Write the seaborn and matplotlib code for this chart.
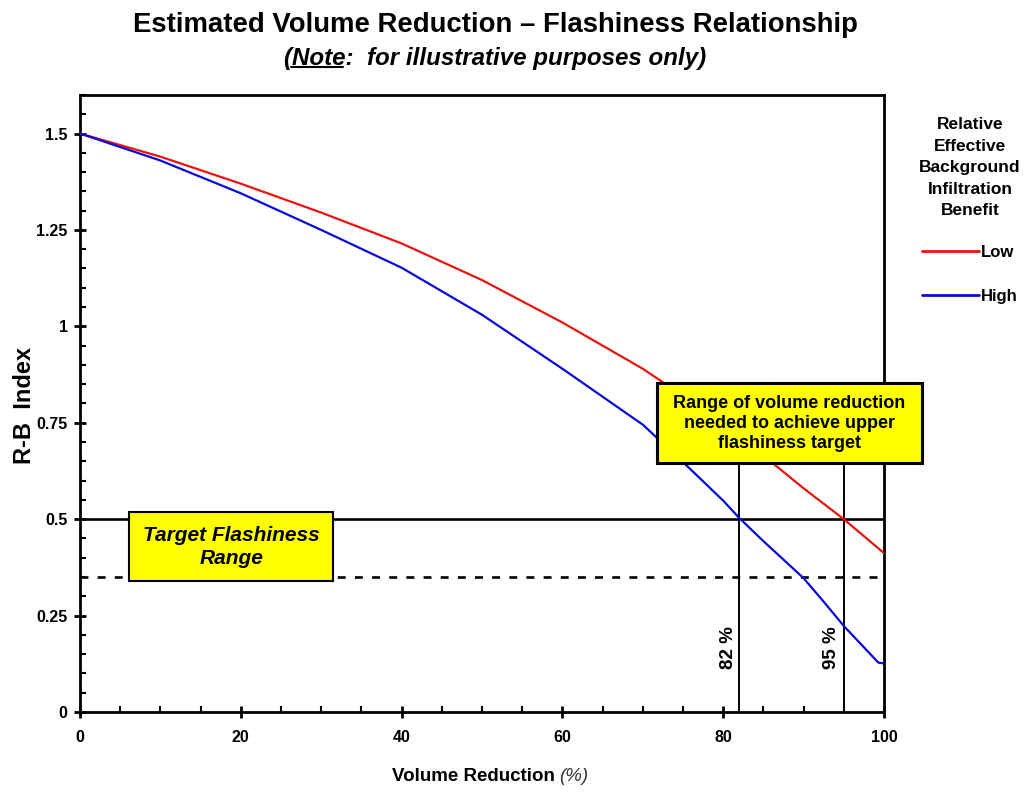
import matplotlib
matplotlib.use("Agg")
import matplotlib.pyplot as plt
from matplotlib.patches import Rectangle
from matplotlib.ticker import MultipleLocator, FuncFormatter
import pandas as pd
import seaborn as sns

# curve readings (volume reduction %, R-B index)
low_x = [0, 10, 20, 30, 40, 50, 60, 70, 75, 80, 85, 90, 95, 100]
low_y = [1.5, 1.44, 1.37, 1.295, 1.215, 1.12, 1.01, 0.89, 0.82, 0.75, 0.665, 0.58, 0.5, 0.412]
high_x = [0, 10, 20, 30, 40, 50, 60, 70, 75, 80, 82, 85, 90, 92.5, 95, 99.3, 100]
high_y = [1.5, 1.43, 1.345, 1.25, 1.152, 1.03, 0.89, 0.745, 0.648, 0.548, 0.503, 0.443, 0.347, 0.286, 0.223, 0.128, 0.126]
series_names = ["Low", "High"]
series_colors = ["#e8140f", "#0a0ad8"]

target_upper = 0.5
target_lower = 0.35
needed_pct = [82, 95]

df = pd.concat([
    pd.DataFrame({"x": low_x, "y": low_y, "benefit": "Low"}),
    pd.DataFrame({"x": high_x, "y": high_y, "benefit": "High"}),
])

sns.set_style("ticks")
plt.rcParams["font.family"] = ["Liberation Sans", "DejaVu Sans"]
for k in ["text.color", "axes.labelcolor", "xtick.color", "ytick.color", "axes.edgecolor"]:
    plt.rcParams[k] = "black"

fig = plt.figure(figsize=(10.26, 7.94), dpi=100)
ax = fig.add_axes([0.078, 0.1033, 0.7836, 0.7771])

sns.lineplot(data=df, x="x", y="y", hue="benefit", hue_order=series_names,
             palette=series_colors, linewidth=1.6, ax=ax, sort=False, zorder=3)

# target lines
ax.plot([0, 100], [target_upper, target_upper], color="black", lw=1.9, zorder=2)
ax.plot([0, 100], [target_lower, target_lower], color="black", lw=1.9,
        dashes=(3, 3.5), zorder=2)
for p in needed_pct:
    ax.plot([p, p], [0, 0.75], color="black", lw=1.4, zorder=2)

ax.set_xlim(0, 100)
ax.set_ylim(0, 1.6)
ax.xaxis.set_major_locator(MultipleLocator(20))
ax.xaxis.set_minor_locator(MultipleLocator(5))
ax.yaxis.set_major_locator(MultipleLocator(0.25))
ax.yaxis.set_minor_locator(MultipleLocator(0.05))
ax.yaxis.set_major_formatter(FuncFormatter(lambda v, _: f"{v:g}"))
ax.tick_params(which="major", direction="inout", length=8, width=2)
ax.tick_params(axis="x", which="major", pad=9)
ax.tick_params(axis="y", which="major", pad=5)
ax.tick_params(which="minor", direction="in", length=4, width=1.5)
for s in ax.spines.values():
    s.set_linewidth(2)
for lbl in ax.get_xticklabels() + ax.get_yticklabels():
    lbl.set_fontweight("bold")
    lbl.set_fontsize(11.5)

ax.set_xlabel("")
ax.set_ylabel("")
fig.text(25 / 1026, 1 - 405 / 794, "R-B  Index", rotation=90, ha="center", va="center",
         fontsize=17, fontweight="bold")

# annotation boxes
ax.add_patch(Rectangle((71.77, 0.646), 32.9, 0.208, facecolor="#ffff00",
                       edgecolor="black", lw=2.2, clip_on=False, zorder=5))
ax.text(88.2, 0.748, "Range of volume reduction\nneeded to achieve upper\nflashiness target",
        ha="center", va="center", fontsize=13, fontweight="bold",
        linespacing=1.22, zorder=6, clip_on=False)
ax.add_patch(Rectangle((6.1, 0.34), 25.4, 0.179, facecolor="#ffff00",
                       edgecolor="black", lw=1.5, zorder=5))
ax.text(18.8, 0.428, "Target Flashiness\nRange", ha="center", va="center",
        fontsize=15, fontweight="bold", style="italic", linespacing=1.3, zorder=6)
for p, tx in zip(needed_pct, [80.6, 93.5]):
    ax.text(tx, 0.166, f"{p} %", rotation=90, ha="center", va="center",
            fontsize=13.5, fontweight="bold")

# legend
leg = ax.legend(title="Relative\nEffective\nBackground\nInfiltration\nBenefit",
                loc="upper center", bbox_to_anchor=(970 / 1026, 1 - 117 / 794),
                bbox_transform=fig.transFigure, frameon=False,
                handlelength=3.4, handletextpad=0.15, labelspacing=1.75,
                fontsize=12, borderaxespad=0, borderpad=0)
title = leg.get_title()
title.set_fontweight("bold")
title.set_fontsize(12.5)
title.set_multialignment("center")
title.set_linespacing(1.55)
leg._legend_box.align = "center"
leg._legend_box.sep = 19
for t in leg.get_texts():
    t.set_fontweight("bold")
for h in leg.legend_handles:
    h.set_linewidth(2)

# titles
fig.text(0.4825, 0.969, "Estimated Volume Reduction \u2013 Flashiness Relationship",
         ha="center", va="center", fontsize=19.8, fontweight="bold")
sub_size = 17.4
sub = fig.text(0.4825, 0.926, "(Note:  for illustrative purposes only)",
               ha="center", va="center", fontsize=sub_size, fontweight="bold", style="italic")

# x label: bold part + italic (%)
fig.text(0.541, 0.022, "Volume Reduction", ha="right", va="center",
         fontsize=13.5, fontweight="bold")
fig.text(0.545, 0.022, "(%)", ha="left", va="center",
         fontsize=13.5, style="italic", color="#333333")

# underline "Note"
fig.canvas.draw()
r = fig.canvas.get_renderer()
bb = sub.get_window_extent(r)
pre = fig.text(0, 0, "(", fontsize=sub_size, fontweight="bold", style="italic")
pre2 = fig.text(0, 0, "(Note", fontsize=sub_size, fontweight="bold", style="italic")
w1 = pre.get_window_extent(r).width
w2 = pre2.get_window_extent(r).width
pre.remove()
pre2.remove()
W, H = fig.bbox.width, fig.bbox.height
yline = (bb.y0 + 3) / H
fig.add_artist(plt.Line2D([(bb.x0 + w1 - 1) / W, (bb.x0 + w2 - 2) / W], [yline, yline],
                          color="black", lw=1.5))

fig.savefig("out.png", dpi=100)
